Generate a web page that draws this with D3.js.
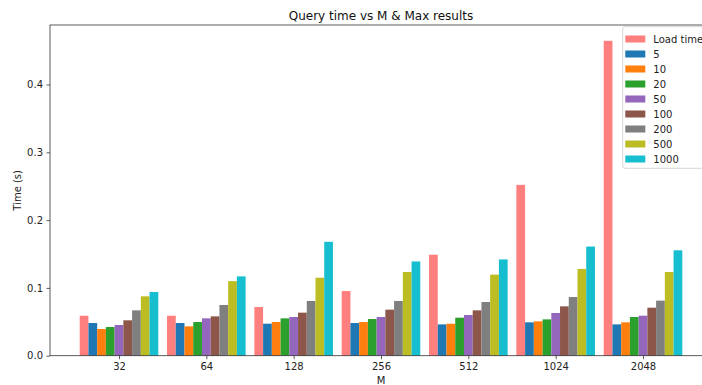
<!DOCTYPE html>
<html>
<head>
<meta charset="utf-8">
<script src="https://cdn.jsdelivr.net/npm/d3@7"></script>
<style>
  html, body { margin: 0; padding: 0; background: #fff; }
  svg { display: block; font-family: "DejaVu Sans", sans-serif; }
</style>
</head>
<body>
<svg id="chart" width="702" height="385"></svg>
<script>
// Graph sizes (M) on the x axis
const mValues = ["32", "64", "128", "256", "512", "1024", "2048"];
// Series names: index load time, then query time per max-results setting
const seriesNames = ["Load time", "5", "10", "20", "50", "100", "200", "500", "1000"];
const seriesColors = ["#ff7f7f", "#1f77b4", "#ff7f0e", "#2ca02c", "#9467bd", "#8c564b", "#7f7f7f", "#bcbd22", "#17becf"];

// Times in seconds, one array per series, ordered like mValues
const loadTime = [0.059, 0.059, 0.0718, 0.0954, 0.149, 0.252, 0.4645];
const q5    = [0.0482, 0.0482, 0.0472, 0.0482, 0.0462, 0.0492, 0.0462];
const q10   = [0.0394, 0.0433, 0.0497, 0.0497, 0.0472, 0.0507, 0.0492];
const q20   = [0.0423, 0.0497, 0.0551, 0.0541, 0.0561, 0.0536, 0.0571];
const q50   = [0.0453, 0.0551, 0.0571, 0.0571, 0.0600, 0.0630, 0.0590];
const q100  = [0.0522, 0.0580, 0.0635, 0.0679, 0.0669, 0.0728, 0.0708];
const q200  = [0.0669, 0.0748, 0.0807, 0.0807, 0.0792, 0.0866, 0.0812];
const q500  = [0.0876, 0.1100, 0.1150, 0.1235, 0.1196, 0.1280, 0.1235];
const q1000 = [0.0940, 0.1170, 0.1680, 0.1390, 0.1420, 0.1610, 0.1555];
const yTicks = [0.0, 0.1, 0.2, 0.3, 0.4];

const series = [loadTime, q5, q10, q20, q50, q100, q200, q500, q1000];

const svg = d3.select("#chart");
const plotLeft = 50, plotRight = 712, plotTop = 25, plotBottom = 355.7;
const barW = 0.1;
const n = series.length;

const x = d3.scaleLinear().domain([-0.79, mValues.length - 1 + 0.79]).range([plotLeft, plotRight]);
const y = d3.scaleLinear().domain([0, 0.4878]).range([plotBottom, plotTop]);

// bars
series.forEach((vals, j) => {
  svg.append("g")
    .attr("fill", seriesColors[j])
    .selectAll("rect")
    .data(vals)
    .join("rect")
    .attr("x", (d, i) => x(i + (j - (n - 1) / 2) * barW - barW / 2))
    .attr("width", x(barW) - x(0))
    .attr("y", d => y(d))
    .attr("height", d => y(0) - y(d));
});

// axes
const xAxis = d3.axisBottom(x)
  .tickValues(d3.range(mValues.length))
  .tickFormat(i => mValues[i])
  .tickSizeOuter(0)
  .tickSize(3.5)
  .tickPadding(3.5);
const yAxis = d3.axisLeft(y)
  .tickValues(yTicks)
  .tickFormat(d3.format(".1f"))
  .tickSizeOuter(0)
  .tickSize(3.5)
  .tickPadding(3.5);

const gx = svg.append("g").attr("transform", `translate(0,${plotBottom})`).call(xAxis);
const gy = svg.append("g").attr("transform", `translate(${plotLeft},0)`).call(yAxis);
[gx, gy].forEach(g => {
  g.select(".domain").remove();
  g.selectAll(".tick line").attr("stroke", "#333").attr("stroke-width", 0.8);
  g.selectAll(".tick text").attr("fill", "#222").style("font-size", "10px")
    .style("font-family", "DejaVu Sans, sans-serif");
});

// frame
svg.append("rect")
  .attr("x", plotLeft).attr("y", plotTop)
  .attr("width", plotRight - plotLeft).attr("height", plotBottom - plotTop)
  .attr("fill", "none").attr("stroke", "#333").attr("stroke-width", 0.8);

// title and axis labels
svg.append("text").attr("x", (plotLeft + plotRight) / 2).attr("y", 20)
  .attr("text-anchor", "middle").style("font-size", "12px").attr("fill", "#111")
  .text("Query time vs M & Max results");
svg.append("text").attr("x", (plotLeft + plotRight) / 2).attr("y", 384)
  .attr("text-anchor", "middle").style("font-size", "10px").attr("fill", "#222")
  .text("M");
svg.append("text").attr("transform", `translate(21,${(plotTop + plotBottom) / 2}) rotate(-90)`)
  .attr("text-anchor", "middle").style("font-size", "10px").attr("fill", "#222")
  .text("Time (s)");

// legend
const lg = svg.append("g").attr("transform", "translate(622.7,26.7)");
lg.append("rect").attr("x", 0).attr("y", 0).attr("width", 100).attr("height", 141.6)
  .attr("rx", 2.5).attr("fill", "#fff").attr("fill-opacity", 0.8)
  .attr("stroke", "#ccc").attr("stroke-width", 0.8);
seriesNames.forEach((name, j) => {
  const cy = 12.3 + j * 15;
  lg.append("rect").attr("x", 2.6).attr("y", cy - 3.5).attr("width", 20).attr("height", 7)
    .attr("fill", seriesColors[j]);
  lg.append("text").attr("x", 30.6).attr("y", cy + 3.6)
    .style("font-size", "10px").attr("fill", "#222").text(name);
});
</script>
</body>
</html>
